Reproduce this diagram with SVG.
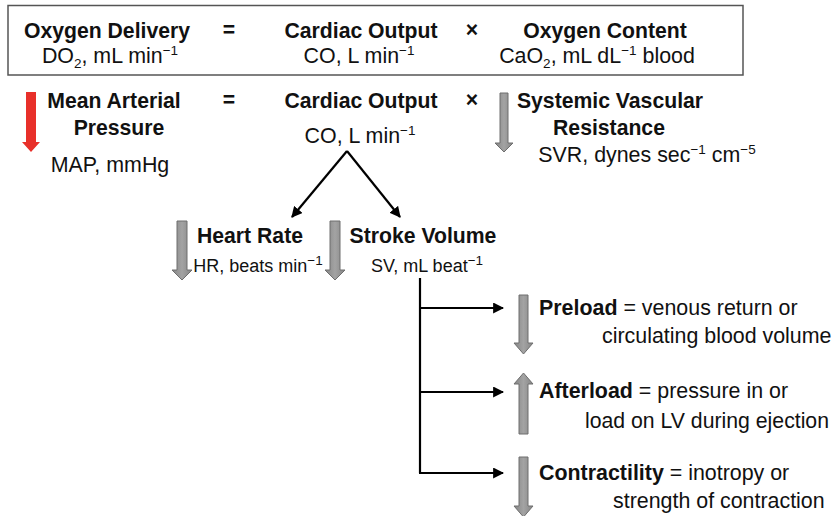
<svg xmlns="http://www.w3.org/2000/svg" width="832" height="516" viewBox="0 0 832 516">
<defs>
<style>
text{font-family:"Liberation Sans",Arial,Helvetica,sans-serif;fill:#111;}
.b{font-weight:bold;font-size:21.2px;}
.r{font-size:21.4px;}
.s{font-size:18px;}
.m{text-anchor:middle;}
.sup{font-size:13.5px;}
.gray{fill:url(#gg);stroke:#6e6e6e;stroke-width:1;}
.red{fill:#e8302a;}
.line{stroke:#000;stroke-width:2.2;fill:none;}
</style>
<linearGradient id="gg" x1="0" y1="0" x2="1" y2="0">
<stop offset="0" stop-color="#858585"/>
<stop offset="0.5" stop-color="#a3a3a3"/>
<stop offset="1" stop-color="#858585"/>
</linearGradient>
<marker id="ah" viewBox="0 0 10 10" refX="9" refY="5" markerWidth="5" markerHeight="5" orient="auto" markerUnits="strokeWidth">
<path d="M0,0 L10,5 L0,10 z" fill="#000"/>
</marker>
</defs>
<rect width="832" height="516" fill="#fff"/>

<g id="box">
<rect x="8" y="5.5" width="735" height="69.5" fill="none" stroke="#555" stroke-width="1.5"/>
</g>

<g id="do2">
<text class="b m" x="107" y="38">Oxygen Delivery</text>
<text class="r m" x="110" y="63">DO<tspan class="sup" dy="5">2</tspan><tspan dy="-5">, mL min</tspan><tspan class="sup" dy="-8">−1</tspan></text>
</g>
<g id="eq1"><text class="b m" x="229" y="37">=</text></g>
<g id="co1">
<text class="b m" x="361" y="38">Cardiac Output</text>
<text class="r m" x="359" y="63">CO, L min<tspan class="sup" dy="-8">−1</tspan></text>
</g>
<g id="x1"><text class="b m" x="472" y="37">×</text></g>
<g id="cao2">
<text class="b m" x="605" y="38">Oxygen Content</text>
<text class="r m" x="597" y="63">CaO<tspan class="sup" dy="5">2</tspan><tspan dy="-5">, mL dL</tspan><tspan class="sup" dy="-8">−1</tspan><tspan dy="8"> blood</tspan></text>
</g>

<g id="map">
<path class="red" d="M26,92 H36 V142 H40 L31,152 L22,142 H26 Z"/>
<text class="b m" x="114" y="108">Mean Arterial</text>
<text class="b m" x="119" y="135">Pressure</text>
<text class="r m" x="110" y="172">MAP, mmHg</text>
</g>
<g id="eq2"><text class="b m" x="229" y="107">=</text></g>
<g id="co2">
<text class="b m" x="361" y="108">Cardiac Output</text>
<text class="r m" x="360" y="143">CO, L min<tspan class="sup" dy="-8">−1</tspan></text>
</g>
<g id="x2"><text class="b m" x="472" y="107">×</text></g>
<g id="svr">
<path class="gray" d="M500,93 H508 V143 H513 L504,152 L495,143 H500 Z"/>
<text class="b m" x="610" y="108">Systemic Vascular</text>
<text class="b m" x="609" y="135">Resistance</text>
<text class="r m" x="647" y="162">SVR, dynes sec<tspan class="sup" dy="-8">−1</tspan><tspan dy="8"> cm</tspan><tspan class="sup" dy="-8">−5</tspan></text>
</g>

<g id="hr">
<path class="gray" d="M177,221 H187 V270 H192 L182,280 L172,270 H177 Z"/>
<text class="b m" x="250" y="243">Heart Rate</text>
<text class="s m" x="258" y="272">HR, beats min<tspan class="sup" dy="-7">−1</tspan></text>
</g>
<g id="sv">
<path class="gray" d="M330,221 H340 V270 H345 L335,280 L325,270 H330 Z"/>
<text class="b m" x="423" y="243">Stroke Volume</text>
<text class="s m" x="427" y="272">SV, mL beat<tspan class="sup" dy="-7">−1</tspan></text>
</g>

<g id="preload">
<path class="gray" d="M519,295 H528 V343 H533 L523.5,354 L514,343 H519 Z"/>
<text class="r" x="539" y="315"><tspan font-weight="bold">Preload</tspan> = venous return or</text>
<text class="r" x="602" y="343">circulating blood volume</text>
</g>
<g id="afterload">
<path class="gray" d="M519,434 H528 V384 H533 L523.5,373 L514,384 H519 Z"/>
<text class="r" x="585" y="428" textLength="244" lengthAdjust="spacingAndGlyphs">load on LV during ejection</text>
<text class="r" x="539" y="398"><tspan font-weight="bold">Afterload</tspan> = pressure in or</text>
</g>
<g id="contractility">
<path class="gray" d="M519,457 H528 V506 H533 L523.5,517 L514,506 H519 Z"/>
<text class="r" x="539" y="480"><tspan font-weight="bold">Contractility</tspan> = inotropy or</text>
<text class="r" x="613" y="508">strength of contraction</text>
</g>

<g id="connectors">
<line class="line" x1="347" y1="151" x2="292" y2="217" marker-end="url(#ah)"/>
<line class="line" x1="347" y1="151" x2="400" y2="217" marker-end="url(#ah)"/>
<path class="line" d="M420,278 V473"/>
<line class="line" x1="419" y1="308" x2="503" y2="308" marker-end="url(#ah)"/>
<line class="line" x1="419" y1="392" x2="503" y2="392" marker-end="url(#ah)"/>
<line class="line" x1="419" y1="473" x2="503" y2="473" marker-end="url(#ah)"/>
</g>
</svg>
